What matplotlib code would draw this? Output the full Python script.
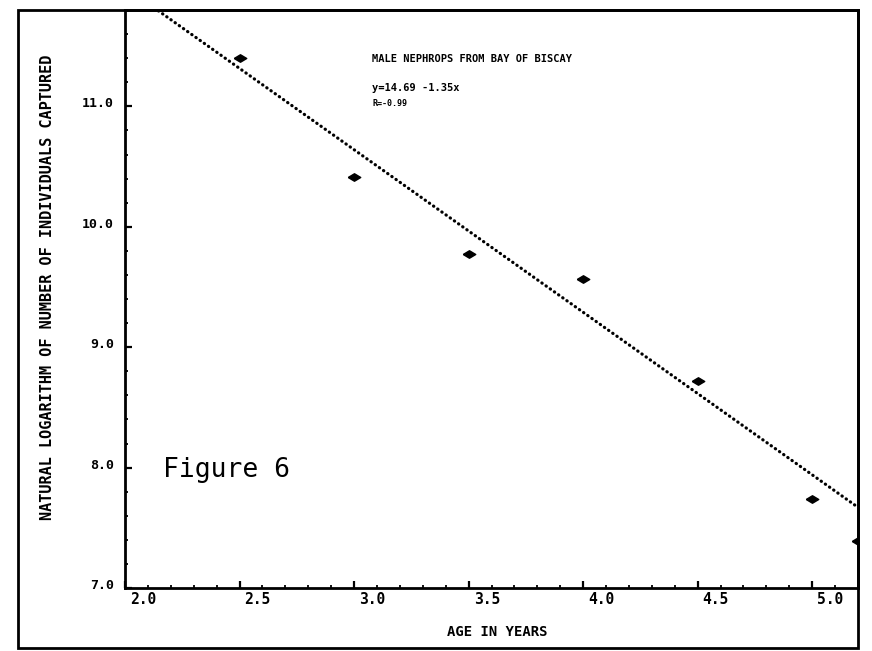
import matplotlib
matplotlib.use("Agg")
import matplotlib.pyplot as plt
from matplotlib.patches import Rectangle
from matplotlib.transforms import ScaledTranslation
import numpy as np

# --- dados ---
age = [2.5, 3.0, 3.5, 4.0, 4.5, 5.0, 5.2]
ln_captured = [11.40, 10.41, 9.77, 9.57, 8.72, 7.74, 7.39]

intercept = 14.69
slope = -1.35

x_ticks = [2.0, 2.5, 3.0, 3.5, 4.0, 4.5, 5.0]
x_tick_labels = ["2.0", "2.5", "3.0", "3.5", "4.0", "4.5", "5.0"]
y_ticks = [7.0, 8.0, 9.0, 10.0, 11.0]
y_tick_labels = ["7.0", "8.0", "9.0", "10.0", "11.0"]

title_text = "MALE NEPHROPS FROM BAY OF BISCAY"
eq_text = "y=14.69 -1.35x"
r_text = "R=-0.99"

mono = "DejaVu Sans Mono"

W, H = 872, 651
fig = plt.figure(figsize=(W / 100, H / 100), dpi=100)
fig.patch.set_facecolor("white")

# eixos em pixels -> fração da figura
left, right, top, bottom = 125, 858, 10, 588
ax = fig.add_axes([left / W, 1 - bottom / H, (right - left) / W, (bottom - top) / H])
ax.set_xlim(2.0, 5.2)
ax.set_ylim(7.0, 11.8)

for s in ax.spines.values():
    s.set_linewidth(2.0)
    s.set_color("black")

# reta de regressão pontilhada
xl = np.array([2.0, 5.2])
ax.plot(xl, intercept + slope * xl, color="black", lw=2.3,
        linestyle=(0, (0.1, 1.5)), dash_capstyle="round")

# pontos observados (losango achatado, como no original)
flat_diamond = [(-1, 0), (0, 0.6), (1, 0), (0, -0.6), (-1, 0)]
ax.plot(age, ln_captured, linestyle="none", marker=flat_diamond, ms=9,
        color="black", clip_on=True)

# ticks
ax.set_xticks(x_ticks)
ax.set_xticklabels(x_tick_labels, fontfamily=mono, fontweight="bold", fontsize=10.5)
ax.set_xticks(np.arange(2.0, 5.21, 0.1), minor=True)
ax.set_yticks(y_ticks)
ax.set_yticklabels(y_tick_labels, fontfamily=mono, fontweight="bold", fontsize=9.5)
ax.set_yticks(np.arange(7.0, 11.81, 0.2), minor=True)
ax.tick_params(which="major", direction="in", length=5, width=1.6)
ax.tick_params(which="minor", direction="in", length=2.5, width=1.3)
ax.tick_params(axis="x", pad=3)
ax.tick_params(axis="y", pad=8)
ax.tick_params(top=False, right=False, which="both")

for lab in ax.get_xticklabels():
    lab.set_horizontalalignment("left")
    lab.set_transform(lab.get_transform() + ScaledTranslation(5 / 100, 0, fig.dpi_scale_trans))
for lab in ax.get_yticklabels():
    lab.set_transform(lab.get_transform() + ScaledTranslation(0, 4 / 100, fig.dpi_scale_trans))

# textos dentro do gráfico
ax.text(372 / W, 1 - 59 / H, title_text, transform=fig.transFigure,
        fontfamily=mono, fontweight="bold", fontsize=7.5, va="center", ha="left")
ax.text(372 / W, 1 - 88 / H, eq_text, transform=fig.transFigure,
        fontfamily=mono, fontweight="bold", fontsize=7.5, va="center", ha="left")
ax.text(372 / W, 1 - 103 / H, r_text, transform=fig.transFigure,
        fontfamily=mono, fontweight="bold", fontsize=6, va="center", ha="left")

fig.text(163 / W, 1 - 470 / H, "Figure 6", fontfamily=mono, fontsize=19,
         va="center", ha="left")

# rótulos dos eixos
fig.text(497 / W, 1 - 632 / H, "AGE IN YEARS", fontfamily=mono, fontweight="bold",
         fontsize=10, ha="center", va="center")
fig.text(48 / W, 1 - 287 / H, "NATURAL LOGARITHM OF NUMBER OF INDIVIDUALS CAPTURED",
         fontfamily=mono, fontweight="bold", fontsize=11, rotation=90,
         ha="center", va="center")

# moldura externa
fig.patches.append(Rectangle((18 / W, 1 - 648 / H), (858 - 18) / W, (648 - 10) / H,
                             transform=fig.transFigure, fill=False,
                             edgecolor="black", linewidth=2.0))

fig.savefig("out.png", dpi=100)
